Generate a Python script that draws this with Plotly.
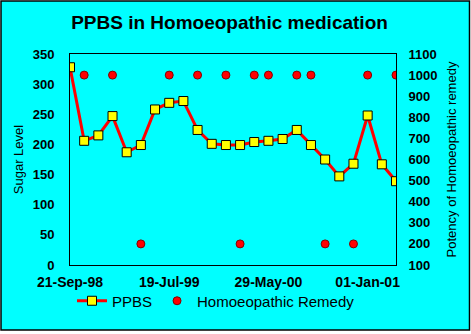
import plotly.graph_objects as go

dates = ["21-Sep-98", "02-Nov-98", "14-Dec-98", "25-Jan-99", "08-Mar-99", "19-Apr-99",
         "31-May-99", "19-Jul-99", "30-Aug-99", "11-Oct-99", "22-Nov-99", "03-Jan-00",
         "14-Feb-00", "17-Apr-00", "29-May-00", "03-Jul-00", "07-Aug-00", "11-Sep-00",
         "16-Oct-00", "20-Nov-00", "11-Dec-00", "01-Jan-01", "05-Feb-01", "12-Mar-01"]
ppbs = [328, 206, 215, 247, 187, 199, 258, 269, 272, 224, 201, 199,
        199, 204, 206, 209, 224, 199, 175, 147, 168, 248, 167, 139]
remedy = [None, 1000, None, 1000, None, 200, None, 1000, None, 1000, None, 1000,
          200, 1000, 1000, None, 1000, 1000, 200, None, 200, 1000, None, 1000]
tick_labels = ["21-Sep-98", "19-Jul-99", "29-May-00", "01-Jan-01"]

FONT = "Arial, 'Liberation Sans', sans-serif"
CYAN = "#00FFFF"

W, H = 471, 334
L, R, T, B = 70, 75, 54, 69
pw, ph = W - L - R, H - T - B

fig = go.Figure()
fig.add_trace(go.Scatter(
    x=dates, y=ppbs, name="PPBS", mode="lines+markers",
    line=dict(color="#FF0000", width=3),
    marker=dict(symbol="square", size=9, color="#FFFF00", line=dict(color="black", width=1)),
    yaxis="y"))
fig.add_trace(go.Scatter(
    x=dates, y=remedy, name="Homoeopathic Remedy", mode="markers",
    marker=dict(symbol="circle", size=8, color="#FF0000", line=dict(color="#800000", width=1)),
    yaxis="y2"))

def px_x(p):
    return (p - L) / pw

def px_y(p):
    return (H - B - p) / ph

fig.update_layout(
    width=W, height=H,
    margin=dict(l=L, r=R, t=T, b=B, pad=0),
    paper_bgcolor="white", plot_bgcolor=CYAN,
    font=dict(family=FONT, color="black"),
    title=dict(text="<b>PPBS in Homoeopathic medication</b>", font=dict(size=19, family=FONT, color="black"),
               x=229.5 / W, xanchor="center", xref="container",
               y=1 - 22 / H, yanchor="middle", yref="container"),
    xaxis=dict(type="category", range=[0, len(dates) - 1], tickmode="array",
               tickvals=tick_labels, ticktext=["<b>%s</b>" % t for t in tick_labels],
               tickfont=dict(size=14, family=FONT, color="black"), tickangle=0,
               showgrid=False, zeroline=False, showline=True, linecolor="black", linewidth=1,
               mirror=True, ticks="", ticklabelstandoff=4),
    yaxis=dict(range=[0, 350], dtick=50, tickmode="linear",
               tickfont=dict(size=13, family=FONT, color="black"), tickprefix="<b>", ticksuffix="</b>",
               showgrid=False, zeroline=False, showline=True, linecolor="black", linewidth=1,
               ticks="", ticklabelstandoff=12,
               title=dict(text="Sugar Level", font=dict(size=13, family=FONT, color="black"), standoff=6)),
    yaxis2=dict(range=[100, 1100], dtick=100, tickmode="linear", overlaying="y", side="right",
                tickfont=dict(size=13, family=FONT, color="black"), tickprefix="<b>", ticksuffix="</b>",
                showgrid=False, zeroline=False, showline=True, linecolor="black", linewidth=1,
                ticks="", ticklabelstandoff=9,
                title=dict(text="Potency of Homoeopathic remedy", font=dict(size=13, family=FONT, color="black"), standoff=10)),
    legend=dict(orientation="h", x=px_x(72), xanchor="left", y=px_y(301), yanchor="middle",
                bgcolor="rgba(0,0,0,0)", font=dict(size=15, family=FONT, color="black"),
                itemclick=False),
    showlegend=True,
    shapes=[dict(type="rect", xref="paper", yref="paper",
                 x0=px_x(1), x1=px_x(469.5), y0=px_y(330), y1=px_y(1),
                 line=dict(color="black", width=1.5), fillcolor=CYAN, layer="below")],
)

fig.write_html("out.html")
